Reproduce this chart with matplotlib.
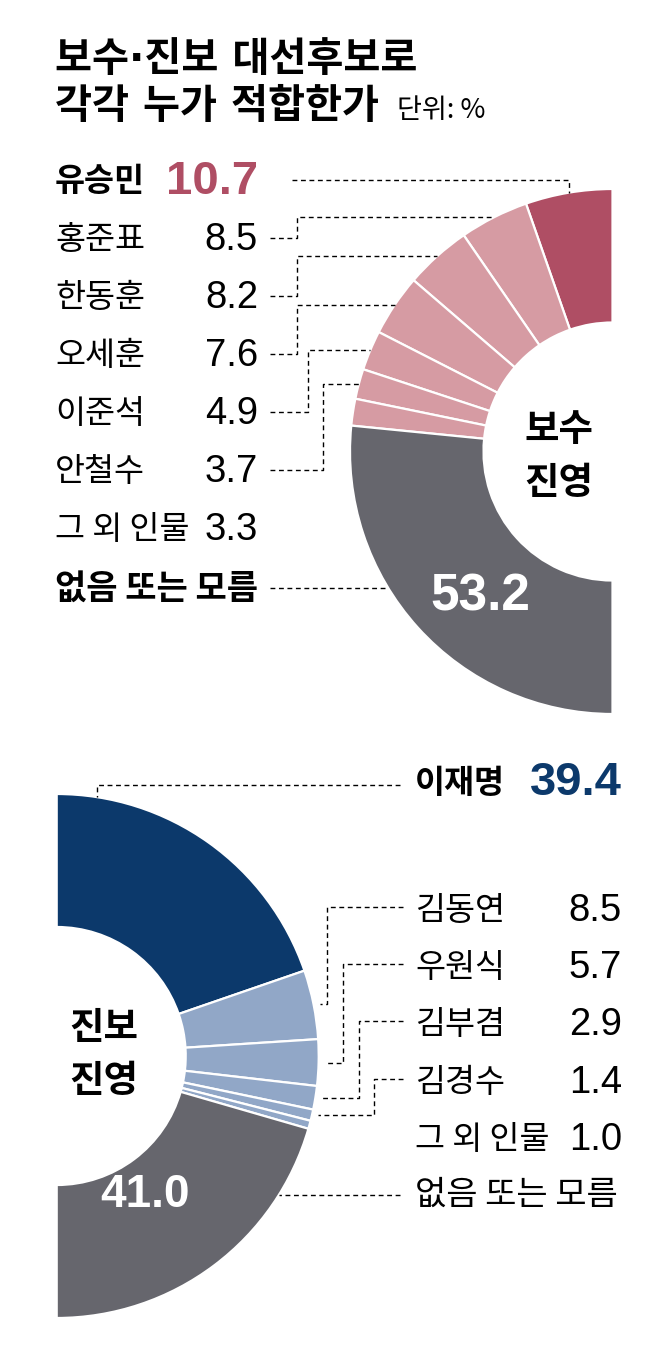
import matplotlib
matplotlib.use('Agg')
import matplotlib.pyplot as plt
import numpy as np

# ---------------- data ----------------
title_lines = ['보수·진보 대선후보로', '각각 누가 적합한가']
unit_label = '단위: %'

cons_names = ['유승민', '홍준표', '한동훈', '오세훈', '이준석', '안철수', '그 외 인물', '없음 또는 모름']
cons_values = [10.7, 8.5, 8.2, 7.6, 4.9, 3.7, 3.3, 53.2]
cons_title = '보수\n진영'

prog_names = ['이재명', '김동연', '우원식', '김부겸', '김경수', '그 외 인물', '없음 또는 모름']
prog_values = [39.4, 8.5, 5.7, 2.9, 1.4, 1.0, 41.0]
prog_title = '진보\n진영'

# ---------------- style ----------------
W, H = 658, 1358
RED, PINK, GRAY = '#AF4E64', '#D69BA3', '#66666D'
NAVY, LBLUE = '#0C396B', '#91A7C7'
cons_colors = [RED] + [PINK] * 6 + [GRAY]
prog_colors = [NAVY] + [LBLUE] * 5 + [GRAY]

KR = ['Noto Sans CJK KR', 'DejaVu Sans']
TITLE_FAM = ['DejaVu Sans', 'Noto Sans CJK KR']  # narrow middle dot, Hangul from Noto
NUM = ['Liberation Sans', 'DejaVu Sans']
LBL = 23.5     # label font size
NUMSZ = 27.5   # regular value size

fig = plt.figure(figsize=(W / 100, H / 100), dpi=100)
ax = fig.add_axes([0, 0, 1, 1])

LEAD = dict(color='black', lw=1.0, ls=(0, (3.5, 2.6)), solid_capstyle='butt')


def half_donut(center, R, width, values, colors, right_side):
    total = sum(values)
    vals = list(values) + [total]
    cols = list(colors) + ['none']
    wedges, _ = ax.pie(vals, colors=cols, center=center, radius=R,
                       startangle=-90, counterclock=right_side,
                       wedgeprops=dict(width=width, edgecolor='white', linewidth=1.6))
    wedges[-1].set_visible(False)
    return wedges


def mid_point(center, R, values, i, right_side):
    total = sum(values)
    cum = sum(values[:i]) + values[i] / 2
    ang = np.pi * cum / total  # 0 at top, pi at bottom
    s = 1 if right_side else -1
    return center[0] + s * R * np.sin(ang), center[1] - R * np.cos(ang)


def edge_x(center, R, y, right_side):
    dy = y - center[1]
    dx = np.sqrt(max(R * R - dy * dy, 0))
    return center[0] + (dx if right_side else -dx)


def edge_y_top(center, R, x):
    dx = x - center[0]
    return center[1] - np.sqrt(max(R * R - dx * dx, 0))


# ---------------- top (보수) ----------------
c1, R1, w1 = (612.5, 451.5), 262.5, 133.5
half_donut(c1, R1, w1, cons_values, cons_colors, right_side=False)

name_x1, val_x1 = 55, 258
ys1 = [182, 240, 298, 356, 414, 472, 530, 588]
corner_x1 = [None, 297, 297, 297, 308, 323]
for i, (n, v) in enumerate(zip(cons_names, cons_values)):
    y = ys1[i]
    if i == 0:
        ax.text(name_x1, y, n, family=KR, fontsize=LBL, fontweight='bold', va='center', ha='left')
        ax.text(val_x1, y, f'{v:.1f}', family=NUM, fontsize=34, fontweight='bold',
                color=RED, va='center', ha='right')
    elif i == len(cons_names) - 1:
        ax.text(name_x1, y, n, family=KR, fontsize=24.5, fontweight='bold', va='center', ha='left')
    else:
        ax.text(name_x1, y, n, family=KR, fontsize=LBL, fontweight='medium', va='center', ha='left')
        ax.text(val_x1, y, f'{v:.1f}', family=NUM, fontsize=NUMSZ, va='center', ha='right')

# leaders top
mx, my = mid_point(c1, R1, cons_values, 0, False)
ax.plot([292, mx, mx], [180, 180, my], **LEAD)
for i in range(1, 6):
    ly = ys1[i] - 2
    mx, my = mid_point(c1, R1, cons_values, i, False)
    ax.plot([270, corner_x1[i], corner_x1[i], mx], [ly, ly, my, my], **LEAD)
ax.plot([270, edge_x(c1, R1, ys1[-1], False)], [ys1[-1], ys1[-1]], **LEAD)

ax.text(559, 456, cons_title, family=KR, fontsize=27, fontweight='bold',
        ha='center', va='center', linespacing=1.45)
ax.text(480, 597, f'{cons_values[-1]:.1f}', family=NUM, fontsize=37, fontweight='bold',
        color='white', ha='center', va='center')

# ---------------- bottom (진보) ----------------
c2, R2, w2 = (56.7, 1056), 262, 133
half_donut(c2, R2, w2, prog_values, prog_colors, right_side=True)

name_x2, val_x2 = 415, 622
ys2 = [783, 911, 968, 1025, 1083, 1140, 1195]
corner_x2 = [None, 327, 343, 359, 374]
for i, (n, v) in enumerate(zip(prog_names, prog_values)):
    y = ys2[i]
    if i == 0:
        ax.text(name_x2, y, n, family=KR, fontsize=LBL, fontweight='bold', va='center', ha='left')
        ax.text(val_x2, y, f'{v:.1f}', family=NUM, fontsize=34, fontweight='bold',
                color=NAVY, va='center', ha='right')
    elif i == len(prog_names) - 1:
        ax.text(name_x2, y, n, family=KR, fontsize=24.5, fontweight='medium', va='center', ha='left')
    else:
        ax.text(name_x2, y, n, family=KR, fontsize=LBL, fontweight='medium', va='center', ha='left')
        ax.text(val_x2, y, f'{v:.1f}', family=NUM, fontsize=NUMSZ, va='center', ha='right')

# leaders bottom
ax.plot([400, 97, 97], [785, 785, edge_y_top(c2, R2, 97)], **LEAD)
for i in range(1, 5):
    ly = ys2[i] - 4
    mx, my = mid_point(c2, R2, prog_values, i, True)
    ax.plot([403, corner_x2[i], corner_x2[i], mx + 6], [ly, ly, my, my], **LEAD)
ax.plot([400, edge_x(c2, R2, ys2[-1], True)], [ys2[-1], ys2[-1]], **LEAD)

ax.text(104, 1054, prog_title, family=KR, fontsize=27, fontweight='bold',
        ha='center', va='center', linespacing=1.45)
ax.text(145, 1195, f'{prog_values[-1]:.1f}', family=NUM, fontsize=33, fontweight='bold',
        color='white', ha='center', va='center')

# ---------------- title ----------------
ax.text(55, 60, title_lines[0], family=TITLE_FAM, fontsize=29, fontweight='bold', va='center', ha='left')
ax.text(55, 107, title_lines[1], family=TITLE_FAM, fontsize=29, fontweight='bold', va='center', ha='left')
ax.text(397, 110, unit_label, family=KR, fontsize=19.5, va='center', ha='left')

ax.set_xlim(0, W)
ax.set_ylim(H, 0)
ax.set_aspect('auto')
ax.axis('off')
fig.savefig('out.png', dpi=100, facecolor='white')
